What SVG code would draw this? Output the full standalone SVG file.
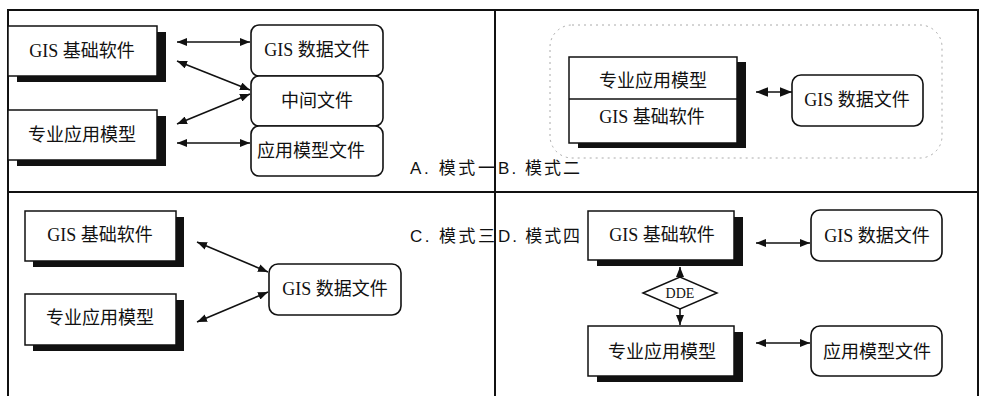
<svg xmlns="http://www.w3.org/2000/svg" width="982" height="396" viewBox="0 0 982 396">
<defs>
<style>
.frame{fill:none;stroke:#111;stroke-width:2}
.box{fill:#fff;stroke:#111;stroke-width:1.5}
.shadow{fill:#111;stroke:none}
.rbox{fill:#fff;stroke:#111;stroke-width:1.6}
.t{font-family:"Liberation Serif","Noto Sans CJK SC",serif;font-size:18px;fill:#111;text-anchor:middle;dominant-baseline:central}
.lbl{font-family:"Liberation Sans","Noto Sans CJK SC",sans-serif;font-size:17px;fill:#111;dominant-baseline:central}
.dde{font-family:"Liberation Serif",serif;font-size:14px;fill:#111;text-anchor:middle;dominant-baseline:central}
.c{stroke:#111;stroke-width:1.6;fill:none}
.dash{fill:none;stroke:#aaa;stroke-width:1;stroke-dasharray:2 4}
</style>
<marker id="ah" viewBox="0 0 10 8" refX="10" refY="4" markerWidth="10" markerHeight="8" markerUnits="userSpaceOnUse" orient="auto-start-reverse"><path d="M0,0 L10,4 L0,8 z" fill="#111"/></marker>
<marker id="ahb" viewBox="0 0 10 8" refX="10" refY="4" markerWidth="12" markerHeight="11" markerUnits="userSpaceOnUse" orient="auto-start-reverse"><path d="M0,0 L10,4 L0,8 z" fill="#111"/></marker>
</defs>
<rect width="982" height="396" fill="#fff"/>
<g id="frame">
<rect class="frame" x="8" y="10" width="970" height="392"/>
<line class="frame" x1="495" y1="10" x2="495" y2="396"/>
<line class="frame" x1="8" y1="192" x2="978" y2="192"/>
</g>
<g id="labels">
<text class="lbl" x="410" y="168" textLength="85" lengthAdjust="spacing">A. 模式一</text>
<text class="lbl" x="498" y="168" textLength="82" lengthAdjust="spacing">B. 模式二</text>
<text class="lbl" x="410" y="236" textLength="85" lengthAdjust="spacing">C. 模式三</text>
<text class="lbl" x="498" y="236" textLength="82" lengthAdjust="spacing">D. 模式四</text>
</g>
<!-- A -->
<g id="a-gis">
<rect class="shadow" x="17" y="32" width="149" height="50"/>
<rect class="box" x="8" y="26" width="149" height="50"/>
<text class="t" x="82" y="51">GIS 基础软件</text>
</g>
<g id="a-model">
<rect class="shadow" x="17" y="116" width="149" height="50"/>
<rect class="box" x="8" y="110" width="149" height="50"/>
<text class="t" x="82" y="135">专业应用模型</text>
</g>
<g id="a-gisdata">
<rect class="rbox" x="251" y="25" width="132" height="51" rx="8"/>
<text class="t" x="317" y="50">GIS 数据文件</text>
</g>
<g id="a-mid">
<rect class="rbox" x="251" y="76" width="132" height="50" rx="8"/>
<text class="t" x="317" y="101">中间文件</text>
</g>
<g id="a-modelfile">
<rect class="rbox" x="251" y="126" width="132" height="50" rx="8"/>
<text class="t" x="311" y="151">应用模型文件</text>
</g>
<!-- B -->
<g id="b-container">
<rect class="dash" x="550" y="25" width="392" height="133" rx="22"/>
</g>
<g id="b-stack">
<rect class="shadow" x="578" y="62" width="168" height="86"/>
<rect class="box" x="569" y="57" width="168" height="86"/>
<line class="c" x1="569" y1="99" x2="737" y2="99"/>
<text class="t" x="653" y="81">专业应用模型</text>
<text class="t" x="652" y="117">GIS 基础软件</text>
</g>
<g id="b-gisdata">
<rect class="rbox" x="792" y="75" width="131" height="51" rx="9"/>
<text class="t" x="857" y="100">GIS 数据文件</text>
</g>
<!-- C -->
<g id="c-gis">
<rect class="shadow" x="33" y="217" width="151" height="50"/>
<rect class="box" x="25" y="211" width="151" height="50"/>
<text class="t" x="100" y="235">GIS 基础软件</text>
</g>
<g id="c-model">
<rect class="shadow" x="33" y="300" width="151" height="51"/>
<rect class="box" x="25" y="294" width="151" height="51"/>
<text class="t" x="100" y="318">专业应用模型</text>
</g>
<g id="c-gisdata">
<rect class="rbox" x="269" y="264" width="132" height="51" rx="9"/>
<text class="t" x="335" y="289">GIS 数据文件</text>
</g>
<!-- D -->
<g id="d-gis">
<rect class="shadow" x="597" y="217" width="146" height="49"/>
<rect class="box" x="588" y="211" width="146" height="49"/>
<text class="t" x="662" y="235">GIS 基础软件</text>
</g>
<g id="d-dde">
<polygon points="643,293 680,277 717,293 680,309" fill="#fff" stroke="#111" stroke-width="1.5"/>
<text class="dde" x="680" y="293">DDE</text>
</g>
<g id="d-model">
<rect class="shadow" x="597" y="332" width="146" height="50"/>
<rect class="box" x="588" y="326" width="146" height="50"/>
<text class="t" x="662" y="352">专业应用模型</text>
</g>
<g id="d-gisdata">
<rect class="rbox" x="811" y="210" width="131" height="51" rx="9"/>
<text class="t" x="877" y="236">GIS 数据文件</text>
</g>
<g id="d-modelfile">
<rect class="rbox" x="811" y="326" width="131" height="50" rx="9"/>
<text class="t" x="877" y="352">应用模型文件</text>
</g>
<g id="connectors">
<line class="c" x1="177" y1="42" x2="250" y2="42" marker-start="url(#ah)" marker-end="url(#ah)"/>
<line class="c" x1="177" y1="61" x2="250" y2="90" marker-start="url(#ah)" marker-end="url(#ah)"/>
<line class="c" x1="177" y1="124" x2="250" y2="94" marker-start="url(#ah)" marker-end="url(#ah)"/>
<line class="c" x1="177" y1="143" x2="250" y2="143" marker-start="url(#ah)" marker-end="url(#ah)"/>
<line class="c" x1="756" y1="92" x2="792" y2="92" stroke-width="2" marker-start="url(#ahb)" marker-end="url(#ahb)"/>
<line class="c" x1="197" y1="242" x2="268" y2="272" marker-start="url(#ah)" marker-end="url(#ah)"/>
<line class="c" x1="197" y1="322" x2="268" y2="292" marker-start="url(#ah)" marker-end="url(#ah)"/>
<line class="c" x1="756" y1="243" x2="810" y2="243" marker-start="url(#ah)" marker-end="url(#ah)"/>
<line class="c" x1="756" y1="343" x2="810" y2="343" marker-start="url(#ah)" marker-end="url(#ah)"/>
<line class="c" x1="680" y1="277" x2="680" y2="267" marker-end="url(#ah)"/>
<line class="c" x1="680" y1="309" x2="680" y2="325" marker-end="url(#ah)"/>
</g>
</svg>
